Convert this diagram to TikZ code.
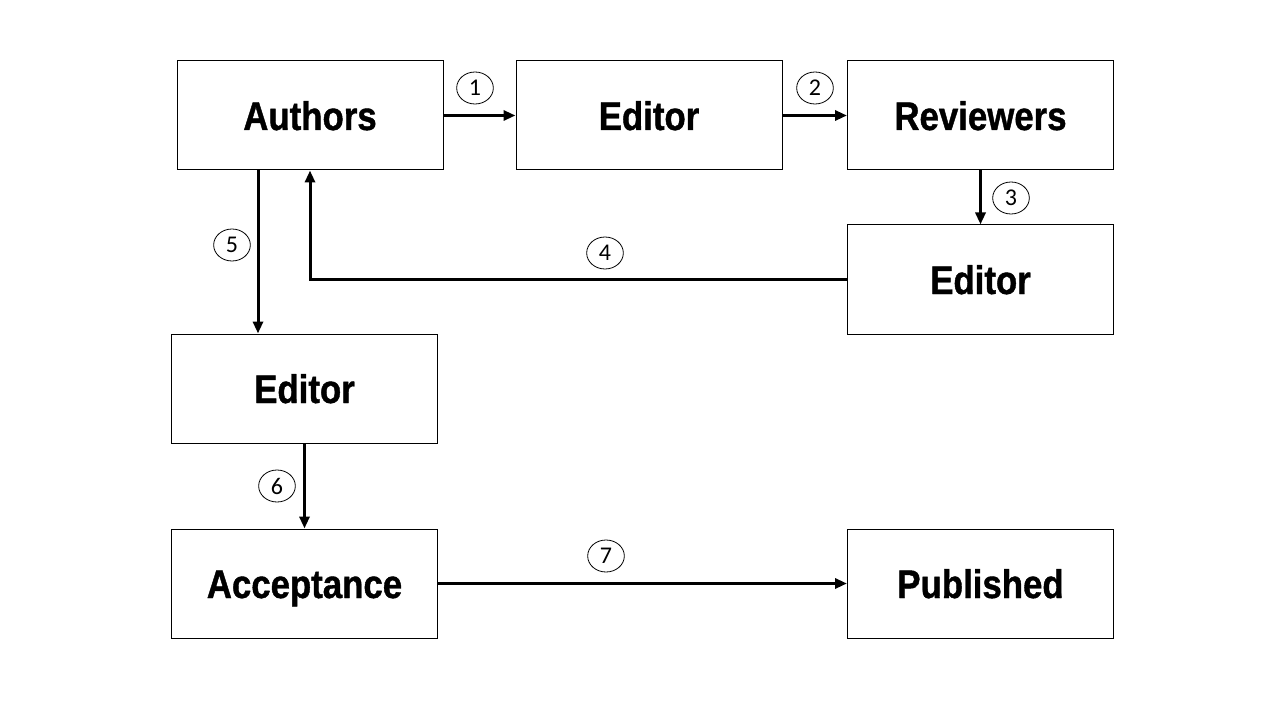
\documentclass[tikz,border=0pt]{standalone}
\usepackage{fontspec}
\usetikzlibrary{arrows.meta,shapes.geometric}
\newfontfamily\boxfont[FakeStretch=0.87,BoldFeatures={FakeBold=1}]{Liberation Sans}
\newfontfamily\numfont{Carlito}

\tikzset{every picture/.style={line width=0.75pt}}
\tikzset{
  stagebox/.style={draw, line width=0.75pt, minimum width=199.5pt, minimum height=81.75pt, inner sep=0pt,
    text height=24pt, text depth=2.25pt,
    font=\boxfont\bfseries\fontsize{30}{36}\selectfont},
  flowarrow/.style={line width=2.25pt, -{Triangle[length=9pt,width=7.5pt]}},
  steplabel/.style={draw, ellipse, line width=0.6pt, minimum width=27.5pt, minimum height=24pt, inner sep=0pt,
    font=\numfont\fontsize{18}{20}\selectfont}
}

\begin{document}
\begin{tikzpicture}[x=0.75pt,y=0.75pt,yscale=-1,xscale=1]
        \useasboundingbox (0,0) rectangle (1280,720);

        %Shape: Rectangle [id:authors] 
        \node [stagebox] (authors) at (310,115.5) {Authors};
        %Shape: Rectangle [id:editor1] 
        \node [stagebox] (editor1) at (649,115.5) {Editor};
        %Shape: Rectangle [id:reviewers] 
        \node [stagebox] (reviewers) at (980.5,115.5) {Reviewers};
        %Shape: Rectangle [id:editor2] 
        \node [stagebox] (editor2) at (980.5,279.5) {Editor};
        %Shape: Rectangle [id:editor3] 
        \node [stagebox] (editor3) at (304.5,388.5) {Editor};
        %Shape: Rectangle [id:acceptance] 
        \node [stagebox] (acceptance) at (304.5,583.5) {Acceptance};
        %Shape: Rectangle [id:published] 
        \node [stagebox] (published) at (980.5,583.5) {Published};

        %Straight Lines [id:arrow1] 
        \draw [flowarrow] (authors) -- (editor1) ;
        %Straight Lines [id:arrow2] 
        \draw [flowarrow] (editor1) -- (reviewers) ;
        %Straight Lines [id:arrow3] 
        \draw [flowarrow] (reviewers) -- (editor2) ;
        %Straight Lines [id:arrow4] 
        \draw [flowarrow] (editor2.west) -| (authors.south) ;
        %Straight Lines [id:arrow5] 
        \coordinate (revise) at (258,170) ;
        \draw [flowarrow] (revise) -- (revise |- editor3.north) ;
        %Straight Lines [id:arrow6] 
        \draw [flowarrow] (editor3) -- (acceptance) ;
        %Straight Lines [id:arrow7] 
        \draw [flowarrow] (acceptance) -- (published) ;

        % Text Node
        \node [steplabel] (step1) at (475,88) {1};
        % Text Node
        \node [steplabel] (step2) at (815,88) {2};
        % Text Node
        \node [steplabel] (step3) at (1011,198) {3};
        % Text Node
        \node [steplabel] (step4) at (605,253) {4};
        % Text Node
        \node [steplabel] (step5) at (232,245) {5};
        % Text Node
        \node [steplabel] (step6) at (277,486) {6};
        % Text Node
        \node [steplabel] (step7) at (606,556) {7};

    \end{tikzpicture}
\end{document}
